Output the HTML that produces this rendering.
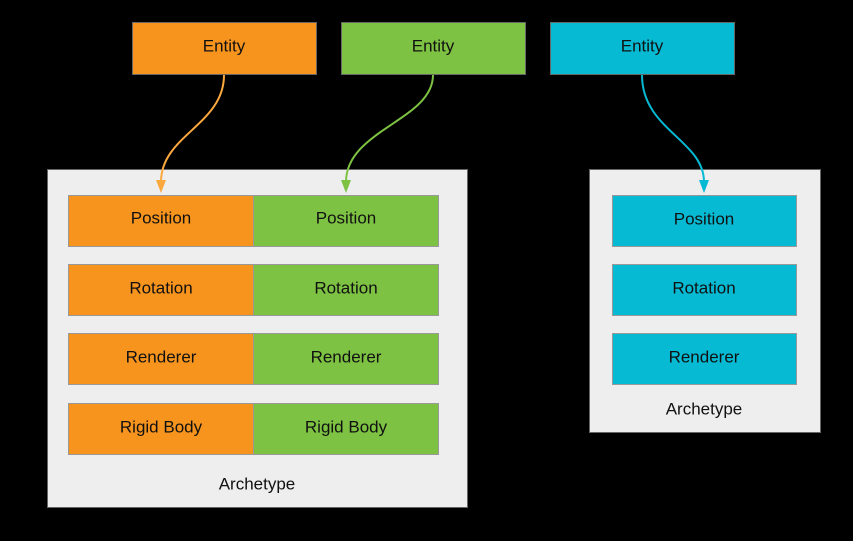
<!DOCTYPE html>
<html><head><meta charset="utf-8"><style>
body{margin:0;background:#000;width:853px;height:536px;overflow:hidden}
svg text{font-family:"Liberation Sans",sans-serif;font-size:17px;fill:#111;text-anchor:middle;dominant-baseline:central}
</style></head><body>
<svg width="853" height="536" viewBox="0 0 853 536">
<rect width="853" height="536" fill="#000"/>
<g stroke="#666" stroke-width="1">
<rect x="132.5" y="22.5" width="184" height="52" fill="#F7941E"/>
<rect x="341.5" y="22.5" width="184" height="52" fill="#7DC242"/>
<rect x="550.5" y="22.5" width="184" height="52" fill="#06BAD3"/>
<rect x="47.5" y="169.5" width="420" height="338" fill="#EEEEEE"/>
<rect x="589.5" y="169.5" width="231" height="263" fill="#EEEEEE"/>
</g>
<g stroke="#999" stroke-width="1">
<rect x="68.5" y="195.5" width="185" height="51" fill="#F7941E"/><rect x="253.5" y="195.5" width="185" height="51" fill="#7DC242"/>
<rect x="68.5" y="264.5" width="185" height="51" fill="#F7941E"/><rect x="253.5" y="264.5" width="185" height="51" fill="#7DC242"/>
<rect x="68.5" y="333.5" width="185" height="51" fill="#F7941E"/><rect x="253.5" y="333.5" width="185" height="51" fill="#7DC242"/>
<rect x="68.5" y="403.5" width="185" height="51" fill="#F7941E"/><rect x="253.5" y="403.5" width="185" height="51" fill="#7DC242"/>
<rect x="612.5" y="195.5" width="184" height="51" fill="#06BAD3"/>
<rect x="612.5" y="264.5" width="184" height="51" fill="#06BAD3"/>
<rect x="612.5" y="333.5" width="184" height="51" fill="#06BAD3"/>
</g>
<g fill="none" stroke-width="2">
<path d="M224 75 C224 125 161 135 161 182" stroke="#FBA83E"/>
<path d="M433 75 C433 120 346 130 346 182" stroke="#7DC242"/>
<path d="M642 75 C642 130 704 140 704 182" stroke="#06BAD3"/>
</g>
<polygon points="156,180 166,180 161,193" fill="#FBA83E"/>
<polygon points="341,180 351,180 346,193" fill="#7DC242"/>
<polygon points="699,180 709,180 704,193" fill="#06BAD3"/>
<text x="224" y="46">Entity</text><text x="433" y="46">Entity</text><text x="642" y="46">Entity</text>
<text x="161" y="218">Position</text><text x="346" y="218">Position</text>
<text x="161" y="288">Rotation</text><text x="346" y="288">Rotation</text>
<text x="161" y="357">Renderer</text><text x="346" y="357">Renderer</text>
<text x="161" y="427">Rigid Body</text><text x="346" y="427">Rigid Body</text>
<text x="257" y="484">Archetype</text>
<text x="704" y="219">Position</text><text x="704" y="288">Rotation</text><text x="704" y="357">Renderer</text>
<text x="704" y="409">Archetype</text>
</svg>
</body></html>
